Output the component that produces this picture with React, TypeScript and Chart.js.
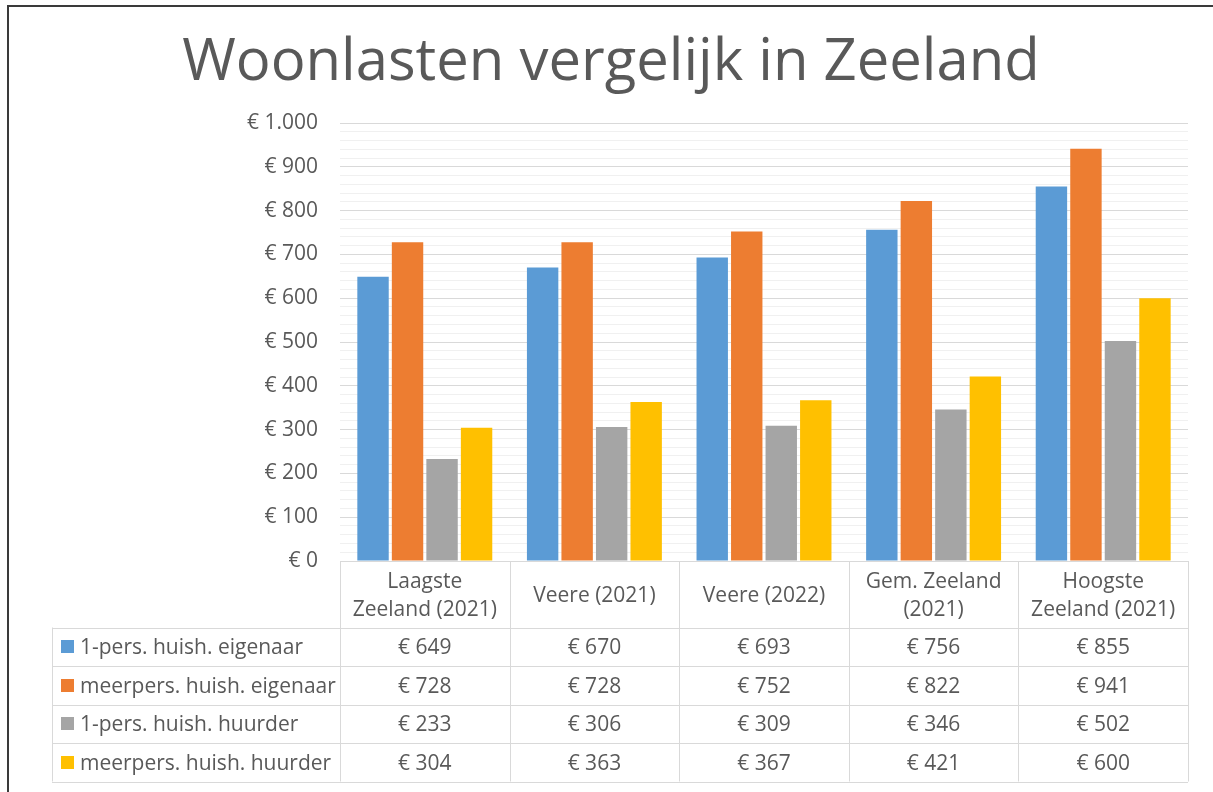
import React, { useEffect, useRef } from 'react';
import { Chart, registerables } from 'chart.js';

Chart.register(...registerables);

const TITLE = 'Woonlasten vergelijk in Zeeland';
const categories: (string | string[])[] = [
  ['Laagste', 'Zeeland (2021)'],
  'Veere (2021)',
  'Veere (2022)',
  ['Gem. Zeeland', '(2021)'],
  ['Hoogste', 'Zeeland (2021)'],
];
const seriesNames = [
  '1-pers. huish. eigenaar',
  'meerpers. huish. eigenaar',
  '1-pers. huish. huurder',
  'meerpers. huish. huurder',
];
const eigenaar1 = [649, 670, 693, 756, 855];
const eigenaarMeer = [728, 728, 752, 822, 941];
const huurder1 = [233, 306, 309, 346, 502];
const huurderMeer = [304, 363, 367, 421, 600];
const seriesValues = [eigenaar1, eigenaarMeer, huurder1, huurderMeer];
const seriesColors = ['#5B9BD5', '#ED7D31', '#A5A5A5', '#FFC000'];
const yMin = 0;
const yMax = 1000;
const yMajorStep = 100;
const yMinorStep = 20;

const FONT = "'Open Sans', sans-serif";
const TEXT = '#595959';
const LINE = '#D9D9D9';

function formatEuro(v: number): string {
  return '€ ' + String(v).replace(/\B(?=(\d{3})+(?!\d))/g, '.');
}

const tablePlugin = {
  id: 'dataTable',
  afterDraw(chart: any) {
    const { ctx, chartArea: ca } = chart;
    const xs = chart.scales.x;
    const n = categories.length;
    const colW = (ca.right - ca.left) / n;
    const headTop = ca.bottom;
    const headBot = headTop + 66.5;
    const rowH = 38.5;
    const tableLeft = 52;
    const rows = chart.data.datasets.length;
    const tableBot = headBot + rows * rowH;
    const px = (v: number) => Math.round(v) + 0.5;

    ctx.save();
    // title
    ctx.fillStyle = TEXT;
    ctx.font = `58px ${FONT}`;
    ctx.textAlign = 'center';
    ctx.textBaseline = 'alphabetic';
    ctx.fillText(TITLE, 611, 80);

    // table lines
    ctx.strokeStyle = LINE;
    ctx.lineWidth = 1;
    const line = (x1: number, y1: number, x2: number, y2: number) => {
      ctx.beginPath();
      ctx.moveTo(x1, y1);
      ctx.lineTo(x2, y2);
      ctx.stroke();
    };
    line(ca.left, px(headTop), ca.right, px(headTop));
    for (let r = 0; r <= rows; r++) {
      const y = px(headBot + r * rowH);
      line(tableLeft, y, ca.right, y);
    }
    for (let i = 0; i <= n; i++) {
      const xv = px(ca.left + i * colW);
      line(xv, headTop, xv, tableBot);
    }
    line(px(tableLeft), headBot, px(tableLeft), tableBot);

    // header labels
    ctx.font = `21px ${FONT}`;
    ctx.fillStyle = TEXT;
    ctx.textAlign = 'center';
    const headMid = (headTop + headBot) / 2;
    categories.forEach((c, i) => {
      const cx = xs.getPixelForValue(i);
      const lines = Array.isArray(c) ? c : [c];
      const lh = 28;
      lines.forEach((t, k) => {
        const y = headMid + 7.5 + (k - (lines.length - 1) / 2) * lh;
        ctx.fillText(t, cx, y);
      });
    });

    // rows
    chart.data.datasets.forEach((ds: any, r: number) => {
      const mid = headBot + r * rowH + rowH / 2;
      ctx.fillStyle = ds.backgroundColor;
      ctx.fillRect(61, Math.round(mid - 6.5), 13, 13);
      ctx.fillStyle = TEXT;
      ctx.textAlign = 'left';
      ctx.fillText(ds.label, 80, mid + 7.5);
      ctx.textAlign = 'center';
      ds.data.forEach((v: number, i: number) => {
        ctx.fillText(formatEuro(v), xs.getPixelForValue(i), mid + 7.5);
      });
    });

    // outer frame
    ctx.strokeStyle = '#3a3a3a';
    ctx.lineWidth = 2;
    ctx.beginPath();
    ctx.moveTo(8, 792);
    ctx.lineTo(8, 6);
    ctx.lineTo(1213, 6);
    ctx.stroke();
    ctx.restore();
  },
};

export default function App() {
  const ref = useRef<HTMLCanvasElement | null>(null);
  useEffect(() => {
    if (!ref.current) return;
    const chart = new Chart(ref.current, {
      type: 'bar',
      data: {
        labels: categories.map((c) => (Array.isArray(c) ? c.join(' ') : c)),
        datasets: seriesNames.map((name, i) => ({
          label: name,
          data: seriesValues[i],
          backgroundColor: seriesColors[i],
          borderWidth: 0,
          categoryPercentage: 0.814,
          barPercentage: 0.91,
        })),
      },
      options: {
        responsive: false,
        animation: false,
        layout: { padding: { left: 0, right: 25, top: 123, bottom: 0 } },
        plugins: {
          legend: { display: false },
          title: { display: false },
          tooltip: { enabled: false },
        },
        scales: {
          x: {
            grid: { display: false },
            border: { display: false },
            ticks: { display: false },
            afterFit: (s: any) => {
              s.height = 231;
            },
          },
          y: {
            min: yMin,
            max: yMax,
            border: { display: false },
            grid: {
              drawTicks: false,
              color: (c: any) =>
                c.tick && c.tick.value % yMajorStep === 0 ? LINE : '#F0F0F0',
            },
            ticks: {
              stepSize: yMinorStep,
              autoSkip: false,
              padding: 22,
              color: TEXT,
              font: { family: FONT, size: 21 },
              callback: (v: any) =>
                Number(v) % yMajorStep === 0 ? formatEuro(Number(v)) : '',
            },
            afterFit: (s: any) => {
              s.width = 340;
            },
          },
        },
      },
      plugins: [tablePlugin],
    });
    return () => chart.destroy();
  }, []);
  return (
    <div style={{ position: 'fixed', left: 0, top: 0, background: '#fff' }}>
      <canvas ref={ref} width={1213} height={792} style={{ display: 'block' }} />
    </div>
  );
}
